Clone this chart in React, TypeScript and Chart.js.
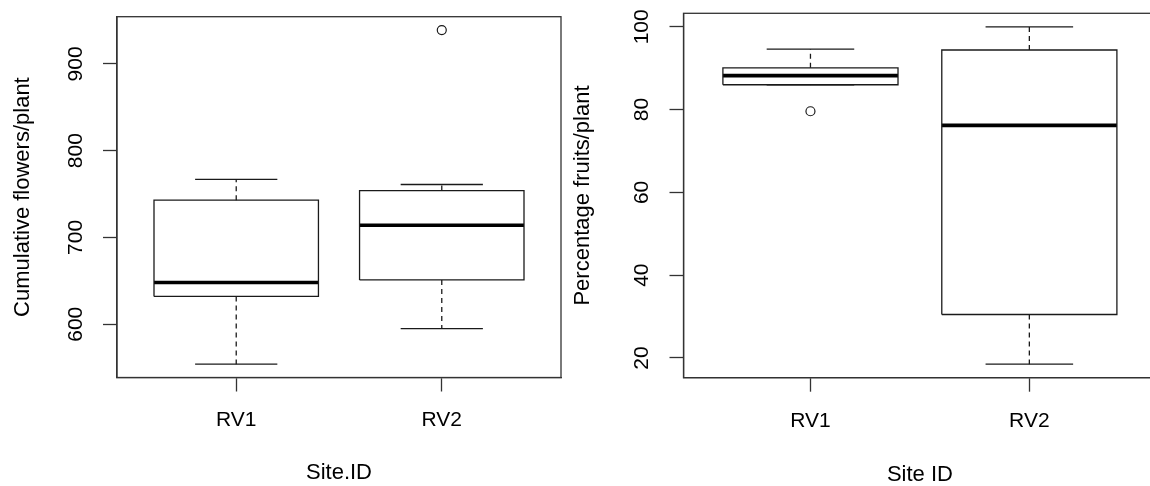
import React, { useEffect, useRef } from 'react';
import { Chart, registerables } from 'chart.js';

Chart.register(...registerables);

// ---------- data ----------
const categories = ['RV1', 'RV2'];
const groupPositions = [1, 2];

// Left panel: Cumulative flowers/plant
const flowersWhiskerLow = [554, 595];
const flowersQ1 = [632, 651];
const flowersMedian = [648, 714];
const flowersQ3 = [743, 754];
const flowersWhiskerHigh = [767, 761];
const flowersOutliers = [[], [939]];
const flowersTicks = [600, 700, 800, 900];

// Right panel: Percentage fruits/plant
const fruitsWhiskerLow = [86, 18.5];
const fruitsQ1 = [86, 30.5];
const fruitsMedian = [88.2, 76.2];
const fruitsQ3 = [90.1, 94.4];
const fruitsWhiskerHigh = [94.6, 100];
const fruitsOutliers = [[79.6], []];
const fruitsTicks = [20, 40, 60, 80, 100];

// ---------- styling ----------
const FONT = "'Liberation Sans', Arial, Helvetica, sans-serif";
const LINE = '#1a1a1a';
const FRAME = '#333333';
const BOX_WEX = 0.8;
const STAPLE_WEX = 0.5;

type Stats = {
  lo: number[];
  q1: number[];
  med: number[];
  q3: number[];
  hi: number[];
  out: number[][];
};

function buildDatasets(s: Stats) {
  const ds: any[] = [];
  const half = BOX_WEX / 2;
  const capHalf = half * STAPLE_WEX;
  const line = {
    showLine: true,
    pointRadius: 0,
    pointHoverRadius: 0,
    borderColor: LINE,
    borderWidth: 1.3,
    fill: false,
    tension: 0,
  };
  categories.forEach((_, i) => {
    const x = groupPositions[i];
    // whiskers (dashed)
    ds.push({ ...line, borderDash: [5, 4], data: [{ x, y: s.q3[i] }, { x, y: s.hi[i] }] });
    ds.push({ ...line, borderDash: [5, 4], data: [{ x, y: s.q1[i] }, { x, y: s.lo[i] }] });
    // staples
    ds.push({ ...line, data: [{ x: x - capHalf, y: s.hi[i] }, { x: x + capHalf, y: s.hi[i] }] });
    ds.push({ ...line, data: [{ x: x - capHalf, y: s.lo[i] }, { x: x + capHalf, y: s.lo[i] }] });
    // box
    ds.push({
      ...line,
      data: [
        { x: x - half, y: s.q1[i] },
        { x: x + half, y: s.q1[i] },
        { x: x + half, y: s.q3[i] },
        { x: x - half, y: s.q3[i] },
        { x: x - half, y: s.q1[i] },
      ],
    });
    // median
    ds.push({ ...line, borderColor: '#000', borderWidth: 3.6, data: [{ x: x - half, y: s.med[i] }, { x: x + half, y: s.med[i] }] });
    // outliers
    if (s.out[i].length) {
      ds.push({
        showLine: false,
        pointStyle: 'circle',
        pointRadius: 4.5,
        pointHoverRadius: 4.5,
        pointBorderWidth: 1.2,
        pointBorderColor: LINE,
        pointBackgroundColor: '#ffffff',
        data: s.out[i].map((y) => ({ x, y })),
      });
    }
  });
  return ds;
}

function dataRange(s: Stats) {
  const all = [...s.lo, ...s.hi, ...s.q1, ...s.q3, ...s.out.flat()];
  const mn = Math.min(...all);
  const mx = Math.max(...all);
  const ext = (mx - mn) * 0.04;
  return [mn - ext, mx + ext];
}

const framePlugin = {
  id: 'rframe',
  afterDatasetsDraw(chart: any) {
    const { ctx, chartArea } = chart;
    ctx.save();
    ctx.strokeStyle = FRAME;
    ctx.lineWidth = 1.3;
    ctx.strokeRect(chartArea.left, chartArea.top, chartArea.right - chartArea.left, chartArea.bottom - chartArea.top);
    ctx.restore();
  },
};

type PanelCfg = {
  stats: Stats;
  ticks: number[];
  yTitle: string;
  xTitle: string;
  canvasLeft: number;
  canvasWidth: number;
  padTop: number;
  padRight: number;
  yAxisWidth: number;
  xAxisHeight: number;
  yTitlePad: number;
  xTitlePadBottom: number;
  xTickPad: number;
};

function makeConfig(c: PanelCfg): any {
  const [ymin, ymax] = dataRange(c.stats);
  const n = categories.length;
  const xExt = n * 0.04;
  const grid = {
    display: true,
    drawOnChartArea: false,
    drawTicks: true,
    tickLength: 14,
    tickColor: FRAME,
    tickWidth: 1.3,
  };
  const border = { display: true, color: FRAME, width: 1.3 };
  return {
    type: 'scatter',
    data: { datasets: buildDatasets(c.stats) },
    plugins: [framePlugin],
    options: {
      animation: false,
      responsive: false,
      events: [],
      layout: { padding: { left: 0, top: c.padTop, right: c.padRight, bottom: 0 } },
      plugins: { legend: { display: false }, tooltip: { enabled: false } },
      scales: {
        x: {
          type: 'linear',
          min: 0.5 - xExt,
          max: n + 0.5 + xExt,
          afterBuildTicks: (s: any) => {
            s.ticks = groupPositions.map((v) => ({ value: v }));
          },
          afterFit: (s: any) => {
            s.height = c.xAxisHeight;
            s.paddingLeft = 0;
            s.paddingRight = 0;
          },
          ticks: {
            autoSkip: false,
            maxRotation: 0,
            minRotation: 0,
            padding: c.xTickPad,
            color: '#000',
            font: { family: FONT, size: 21 },
            callback: (_v: any, i: number) => categories[i],
          },
          grid,
          border,
          title: {
            display: true,
            text: c.xTitle,
            color: '#000',
            font: { family: FONT, size: 22 },
            padding: { top: 0, bottom: c.xTitlePadBottom },
          },
        },
        y: {
          type: 'linear',
          min: ymin,
          max: ymax,
          afterBuildTicks: (s: any) => {
            s.ticks = c.ticks.map((v) => ({ value: v }));
          },
          afterFit: (s: any) => {
            s.width = c.yAxisWidth;
            s.paddingTop = 0;
            s.paddingBottom = 0;
          },
          ticks: {
            autoSkip: false,
            minRotation: 90,
            maxRotation: 90,
            crossAlign: 'center',
            padding: 9.5,
            color: '#000',
            font: { family: FONT, size: 21 },
            callback: (v: any) => String(v),
          },
          grid,
          border,
          title: {
            display: true,
            text: c.yTitle,
            color: '#000',
            font: { family: FONT, size: 22 },
            padding: { top: c.yTitlePad, bottom: 0 },
          },
        },
      },
    },
  };
}

function Panel({ cfg }: { cfg: PanelCfg }) {
  const ref = useRef<HTMLCanvasElement | null>(null);
  useEffect(() => {
    if (!ref.current) return;
    const chart = new Chart(ref.current, makeConfig(cfg));
    return () => chart.destroy();
  }, []);
  return (
    <canvas
      ref={ref}
      width={cfg.canvasWidth}
      height={486}
      style={{ position: 'absolute', left: cfg.canvasLeft, top: 0, width: cfg.canvasWidth, height: 486 }}
    />
  );
}

const leftCfg: PanelCfg = {
  stats: {
    lo: flowersWhiskerLow,
    q1: flowersQ1,
    med: flowersMedian,
    q3: flowersQ3,
    hi: flowersWhiskerHigh,
    out: flowersOutliers,
  },
  ticks: flowersTicks,
  yTitle: 'Cumulative flowers/plant',
  xTitle: 'Site.ID',
  canvasLeft: 0,
  canvasWidth: 570,
  padTop: 16.7,
  padRight: 9,
  yAxisWidth: 117,
  xAxisHeight: 108.5,
  yTitlePad: 9.8,
  xTitlePadBottom: 0,
  xTickPad: 15.9,
};

const rightCfg: PanelCfg = {
  stats: {
    lo: fruitsWhiskerLow,
    q1: fruitsQ1,
    med: fruitsMedian,
    q3: fruitsQ3,
    hi: fruitsWhiskerHigh,
    out: fruitsOutliers,
  },
  ticks: fruitsTicks,
  yTitle: 'Percentage fruits/plant',
  xTitle: 'Site ID',
  canvasLeft: 562,
  canvasWidth: 600,
  padTop: 13.3,
  padRight: 5.4,
  yAxisWidth: 121.5,
  xAxisHeight: 108.3,
  yTitlePad: 8.1,
  xTitlePadBottom: -2.6,
  xTickPad: 17.4,
};

export default function App() {
  return (
    <div
      style={{
        position: 'absolute',
        left: 0,
        top: 0,
        width: 1150,
        height: 486,
        overflow: 'hidden',
        background: '#ffffff',
      }}
    >
      <Panel cfg={leftCfg} />
      <Panel cfg={rightCfg} />
    </div>
  );
}
